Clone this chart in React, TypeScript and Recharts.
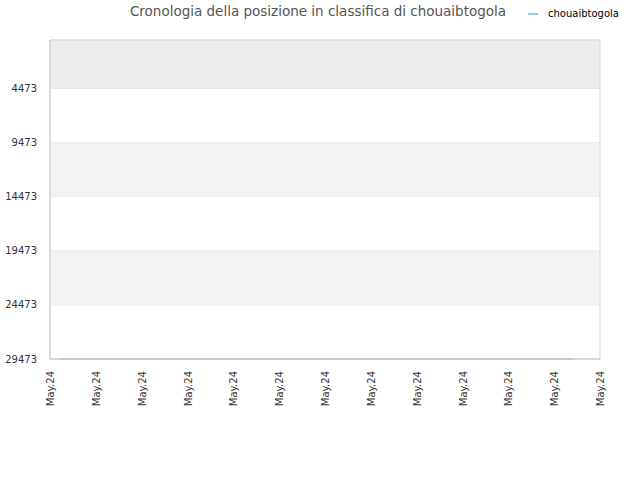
import { LineChart, Line, XAxis, YAxis, CartesianGrid, ReferenceArea } from 'recharts';

const seriesName = 'chouaibtogola';
const xPositions = [0.2, 11.43];
const ranks = [29473, 29473];
const yTicks = [4473, 9473, 14473, 19473, 24473, 29473];
const xTicks = [0, 1, 2, 3, 4, 5, 6, 7, 8, 9, 10, 11, 12];
const xTickLabels = ['May.24', 'May.24', 'May.24', 'May.24', 'May.24', 'May.24', 'May.24', 'May.24', 'May.24', 'May.24', 'May.24', 'May.24', 'May.24'];
const bands = [
    { y1: 0, y2: 4473, fill: '#ededed' },
    { y1: 9473, y2: 14473, fill: '#f3f3f3' },
    { y1: 19473, y2: 24473, fill: '#f3f3f3' },
];

const data = xPositions.map((x, i) => ({ x, rank: ranks[i] }));
const font = '"DejaVu Sans", sans-serif';

const XTick = (props: any) => {
    const { x, y, payload } = props;
    return (
        <text x={x} y={y} transform={`rotate(-90, ${x}, ${y})`} textAnchor="end" dy={4} fontSize={10} fill="#333" fontFamily={font}>
            {xTickLabels[payload.index ?? xTicks.indexOf(payload.value)]}
        </text>
    );
};

const App = () => {
    return (
        <div style={{ position: 'absolute', left: 0, top: 0, width: 640, height: 480, background: '#fff' }}>
            <div style={{ position: 'absolute', left: 0, width: 636, top: 3, textAlign: 'center', fontFamily: font, fontSize: 13.5, color: '#555' }}>
                Cronologia della posizione in classifica di chouaibtogola
            </div>
            <div style={{ position: 'absolute', left: 528, top: 8, display: 'flex', alignItems: 'center', fontFamily: font, fontSize: 10, color: '#000' }}>
                <svg width={10} height={4} style={{ marginRight: 10 }}>
                    <line x1={0} y1={2} x2={10} y2={2} stroke="#9ecae9" strokeWidth={2} />
                </svg>
                {seriesName}
            </div>
            <LineChart width={640} height={480} data={data} margin={{ top: 40, right: 40, bottom: 71, left: 0 }}>
                {bands.map((b, i) => (
                    <ReferenceArea key={i} x1={0} x2={12} y1={b.y1} y2={b.y2} fill={b.fill} fillOpacity={1} stroke="none" ifOverflow="hidden" />
                ))}
                <CartesianGrid vertical={false} stroke="#e0e0e0" />
                <ReferenceArea x1={0} x2={12} y1={0} y2={29473} fill="none" stroke="#d8d8d8" ifOverflow="visible" />
                <XAxis
                    dataKey="x"
                    type="number"
                    domain={[0, 12]}
                    ticks={xTicks}
                    interval={0}
                    height={50}
                    tick={<XTick />}
                    tickLine={false}
                    axisLine={{ stroke: '#cccccc' }}
                    tickMargin={6}
                />
                <YAxis
                    reversed
                    type="number"
                    domain={[0, 29473]}
                    ticks={yTicks}
                    interval={0}
                    width={50}
                    tick={{ fill: '#333', fontSize: 10, fontFamily: font }}
                    tickLine={false}
                    axisLine={{ stroke: '#cccccc' }}
                    tickMargin={7}
                />
                <Line type="linear" dataKey="rank" name={seriesName} stroke="#9ecae9" strokeWidth={1.5} dot={false} isAnimationActive={false} />
            </LineChart>
        </div>
    );
};

export default App;
